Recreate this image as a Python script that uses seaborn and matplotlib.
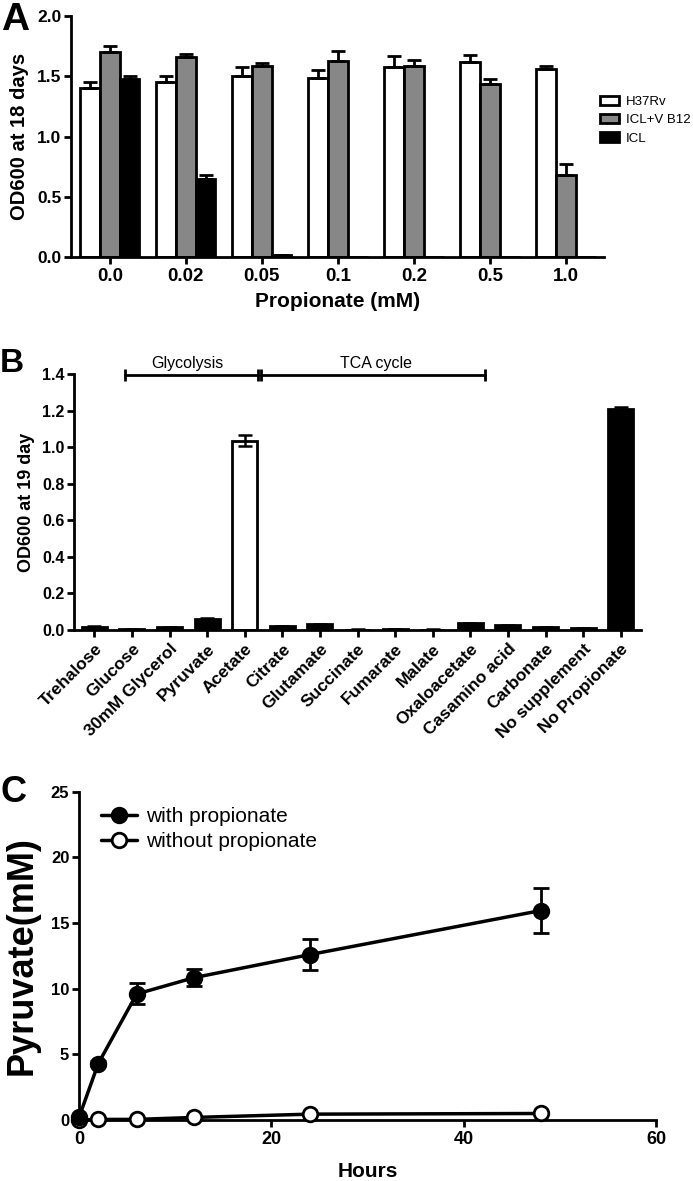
import numpy as np
import pandas as pd
import matplotlib
matplotlib.use("Agg")
import matplotlib.pyplot as plt
import seaborn as sns
from matplotlib.patches import Patch

# ---------------- data ----------------
# Panel A
conc = ["0.0", "0.02", "0.05", "0.1", "0.2", "0.5", "1.0"]
strains = ["H37Rv", "ICL+V B12", "ICL"]
h37rv = [1.40, 1.45, 1.50, 1.49, 1.58, 1.62, 1.56]
h37rv_err = [0.05, 0.05, 0.08, 0.06, 0.09, 0.06, 0.03]
icl_b12 = [1.70, 1.66, 1.59, 1.63, 1.59, 1.44, 0.68]
icl_b12_err = [0.05, 0.03, 0.02, 0.08, 0.05, 0.04, 0.09]
icl = [1.48, 0.65, 0.02, 0.005, 0.0, 0.0, 0.0]
icl_err = [0.02, 0.03, 0.0, 0.0, 0.0, 0.0, 0.0]

# Panel B
supplements = ["Trehalose", "Glucose", "30mM Glycerol", "Pyruvate", "Acetate",
               "Citrate", "Glutamate", "Succinate", "Fumarate", "Malate",
               "Oxaloacetate", "Casamino acid", "Carbonate", "No supplement",
               "No Propionate"]
od19 = [0.016, 0.003, 0.014, 0.060, 1.035, 0.022, 0.030, 0.002, 0.006, 0.002,
        0.036, 0.026, 0.014, 0.008, 1.21]
od19_err = [0.003, 0.001, 0.002, 0.004, 0.03, 0.002, 0.003, 0.001, 0.001, 0.001,
            0.004, 0.003, 0.002, 0.001, 0.01]

# Panel C
hours = [0, 2, 6, 12, 24, 48]
with_prop = [0.2, 4.3, 9.6, 10.85, 12.6, 15.95]
with_prop_err = [0.1, 0.2, 0.8, 0.65, 1.2, 1.7]
without_prop = [0.0, 0.05, 0.05, 0.2, 0.45, 0.5]

# ---------------- style ----------------
sns.set_style("ticks")
plt.rcParams["font.family"] = ["Liberation Sans", "DejaVu Sans"]
plt.rcParams["text.color"] = "black"
plt.rcParams["axes.labelcolor"] = "black"
plt.rcParams["axes.linewidth"] = 2.0
plt.rcParams["xtick.major.width"] = 2.0
plt.rcParams["ytick.major.width"] = 2.0
plt.rcParams["xtick.major.size"] = 5
plt.rcParams["ytick.major.size"] = 5
plt.rcParams["xtick.major.pad"] = 3
plt.rcParams["ytick.major.pad"] = 2
plt.rcParams["xtick.color"] = "black"
plt.rcParams["ytick.color"] = "black"
plt.rcParams["xtick.labelcolor"] = "black"
plt.rcParams["ytick.labelcolor"] = "black"
plt.rcParams["axes.edgecolor"] = "black"

fig = plt.figure(figsize=(6.93, 11.81), dpi=100)

def bold_ticks(ax, xs, ys):
    for lab in ax.get_xticklabels():
        lab.set_fontweight("bold")
        lab.set_fontsize(xs)
        lab.set_color("black")
    for lab in ax.get_yticklabels():
        lab.set_fontweight("bold")
        lab.set_fontsize(ys)
        lab.set_color("black")

# ---------------- Panel A ----------------
axA = fig.add_axes([0.1025, 0.7823, 0.769, 0.2040])
dfA = pd.DataFrame({
    "conc": conc * 3,
    "strain": np.repeat(strains, len(conc)),
    "od": h37rv + icl_b12 + icl,
})
errsA = [h37rv_err, icl_b12_err, icl_err]
palA = ["white", "#878787", "black"]
sns.barplot(data=dfA, x="conc", y="od", hue="strain", order=conc,
            hue_order=strains, palette=palA, edgecolor="black", linewidth=2,
            width=0.78, errorbar=None, legend=False, ax=axA)
for cont, vals, errs in zip(axA.containers, [h37rv, icl_b12, icl], errsA):
    xs = [p.get_x() + p.get_width() / 2 for p in cont.patches]
    axA.errorbar(xs, vals, yerr=[np.zeros(len(errs)), errs], fmt="none",
                 ecolor="black", elinewidth=2, capsize=5, capthick=2, zorder=1)
axA.set_ylim(0, 2.0)
axA.set_xlim(-0.51, 6.5)
axA.set_yticks([0.0, 0.5, 1.0, 1.5, 2.0])
axA.set_yticklabels(["0.0", "0.5", "1.0", "1.5", "2.0"])
axA.set_ylabel("OD600 at 18 days", fontsize=14.5, fontweight="bold", labelpad=6,
               color="black")
axA.set_xlabel("Propionate (mM)", fontsize=15, fontweight="bold", labelpad=5,
               color="black")
bold_ticks(axA, 13.5, 12.5)
sns.despine(ax=axA)
handles = [Patch(facecolor=c, edgecolor="black", linewidth=2, label=s)
           for c, s in zip(palA, strains)]
fig.legend(handles=handles, loc="upper left", bbox_to_anchor=(0.857, 0.9245),
           frameon=False, borderpad=0, handlelength=1.4, handleheight=0.72,
           handletextpad=0.55, labelspacing=0.45, prop={"size": 9.5},
           labelcolor="black")
fig.text(0.002, 1 - 30 / 1181, "A", fontsize=28, fontweight="bold",
         va="baseline", ha="left", color="black")

# ---------------- Panel B ----------------
axB = fig.add_axes([0.1068, 0.4666, 0.8177, 0.2167])
colB = ["white" if s == "Acetate" else "black" for s in supplements]
sns.barplot(x=supplements, y=od19, hue=supplements, palette=colB,
            edgecolor="black", linewidth=2, width=0.665, errorbar=None,
            legend=False, ax=axB)
xsB = [p.get_x() + p.get_width() / 2 for c in axB.containers for p in c.patches]
axB.errorbar(xsB, od19, yerr=od19_err, fmt="none", ecolor="black",
             elinewidth=1.8, capsize=5, capthick=1.8)
axB.set_ylim(0, 1.4)
axB.set_xlim(-0.54, 14.53)
axB.set_yticks(np.arange(0, 1.41, 0.2))
axB.set_yticklabels([f"{v:.1f}" for v in np.arange(0, 1.41, 0.2)])
axB.set_ylabel("OD600 at 19 day", fontsize=13, fontweight="bold", labelpad=5,
               color="black")
axB.tick_params(axis="x", rotation=45)
for lab in axB.get_xticklabels():
    lab.set_ha("right")
    lab.set_rotation_mode("anchor")
bold_ticks(axB, 12.5, 11.5)
sns.despine(ax=axB)
# pathway brackets
yb = 1.395
for x0, x1 in [(0.81, 4.36), (4.42, 10.38)]:
    axB.plot([x0, x1], [yb, yb], color="black", lw=2, clip_on=False,
             marker="|", markersize=9, markeredgewidth=2)
axB.text(2.48, 1.418, "Glycolysis", ha="center", va="bottom", fontsize=11.5,
         color="black")
axB.text(7.5, 1.418, "TCA cycle", ha="center", va="bottom", fontsize=11.5,
         color="black")
fig.text(0.0, 1 - 372 / 1181, "B", fontsize=24, fontweight="bold",
         va="baseline", ha="left", color="black")

# ---------------- Panel C ----------------
axC = fig.add_axes([0.114, 0.0516, 0.8326, 0.2780])
sns.lineplot(x=hours, y=with_prop, color="black", lw=2.5, marker="o",
             markersize=10.5, markerfacecolor="black", markeredgecolor="black",
             markeredgewidth=2, label="with propionate", ax=axC, clip_on=False,
             zorder=4)
sns.lineplot(x=hours, y=without_prop, color="black", lw=2.5, marker="o",
             markersize=10.5, markerfacecolor="white", markeredgecolor="black",
             markeredgewidth=2, label="without propionate", ax=axC,
             clip_on=False, zorder=3)
axC.errorbar(hours, with_prop, yerr=with_prop_err, fmt="none", ecolor="black",
             elinewidth=2, capsize=6, capthick=2, zorder=2)
axC.set_xlim(0, 60)
axC.set_ylim(0, 25)
axC.set_xticks([0, 20, 40, 60])
axC.set_yticks([0, 5, 10, 15, 20, 25])
axC.set_xlabel("Hours", fontsize=15, fontweight="bold", labelpad=10,
               color="black")
axC.set_ylabel("Pyruvate(mM)", fontsize=26, fontweight="bold", labelpad=8,
               color="black")
bold_ticks(axC, 13, 12)
sns.despine(ax=axC)
axC.legend(loc="upper left", frameon=False, bbox_to_anchor=(0.02, 0.985),
           borderpad=0, handlelength=1.75, handletextpad=0.4, labelspacing=0.3,
           prop={"size": 15}, labelcolor="black")
fig.text(0.0, 1 - 802 / 1181, "C", fontsize=26, fontweight="bold",
         va="baseline", ha="left", color="black")

fig.savefig("out.png", dpi=100)
